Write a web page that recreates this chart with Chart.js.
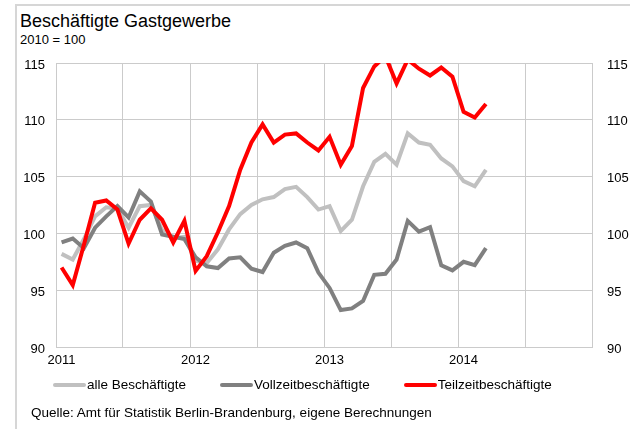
<!DOCTYPE html>
<html>
<head>
<meta charset="utf-8">
<script src="https://cdn.jsdelivr.net/npm/chart.js@4.4.1/dist/chart.umd.min.js"></script>
<style>
  body { margin: 0; background: #fff; font-family: "Liberation Sans", Arial, sans-serif; color: #000; }
  #wrap { position: relative; width: 630px; height: 429px; overflow: hidden; }
  #rahmen { position: absolute; left: 15px; top: 4px; width: 700px; height: 500px;
    border-top: 2px solid #d6d6d6; border-left: 2px solid #d6d6d6; }
  .txt { position: absolute; white-space: nowrap; }
  #titel { left: 20px; top: 12px; font-size: 18px; line-height: 18px; }
  #untertitel { left: 20px; top: 33px; font-size: 13px; line-height: 13px; }
  #quelle { left: 31px; top: 406px; font-size: 13.5px; line-height: 14px; }
  #legende { position: absolute; left: 53px; top: 378px; display: flex; gap: 34px;
    font-size: 13.5px; line-height: 14px; white-space: nowrap; }
  #legende .eintrag { display: flex; align-items: center; }
  #legende .strich { width: 33px; height: 4px; border-radius: 2px; margin-right: 1px; }
  canvas { position: absolute; left: 0; top: 0; }
</style>
</head>
<body>
<div id="wrap">
  <div id="rahmen"></div>
  <div class="txt" id="titel">Beschäftigte Gastgewerbe</div>
  <div class="txt" id="untertitel">2010 = 100</div>
  <canvas id="grafik" width="630" height="429"></canvas>
  <div id="legende"></div>
  <div class="txt" id="quelle">Quelle: Amt für Statistik Berlin-Brandenburg, eigene Berechnungen</div>
</div>
<script>
// Monate Jan 2011 bis Dez 2014
const jahre = ["2011", "2012", "2013", "2014"];
const monate = [];
jahre.forEach(j => {
  for (let m = 1; m <= 12; m++) monate.push(String(m).padStart(2, "0") + "." + j);
});

const alleBeschaeftigte = [
  98.2, 97.7, 99.5, 101.5, 102.3, 102.2, 100.5, 102.4, 102.5, 100.3, 99.6, 99.7,
  97.6, 97.4, 98.6, 100.35, 101.7, 102.5, 103.0, 103.2, 103.9, 104.1, 103.2, 102.1,
  102.4, 100.2, 101.2, 104.15, 106.3, 107.0, 106.05, 108.8, 108.0, 107.8, 106.6, 105.9,
  104.6, 104.15, 105.6
];
const vollzeit = [
  99.2, 99.55, 98.7, 100.5, 101.5, 102.4, 101.4, 103.7, 102.8, 99.9, 99.7, 99.5,
  97.9, 97.1, 96.95, 97.8, 97.9, 96.9, 96.6, 98.3, 98.9, 99.2, 98.7, 96.55,
  95.2, 93.25, 93.4, 94.05, 96.35, 96.45, 97.7, 101.1, 100.15, 100.55, 97.2, 96.75,
  97.5, 97.2, 98.7
];
const teilzeit = [
  97.0, 95.45, 99.0, 102.7, 102.9, 102.1, 99.1, 101.2, 102.2, 101.2, 99.2, 101.1,
  96.7, 98.0, 100.1, 102.4, 105.6, 108.0, 109.6, 108.0, 108.7, 108.8, 108.0, 107.3,
  108.5, 106.05, 107.7, 112.8, 114.7, 115.6, 113.2, 115.3, 114.5, 113.9, 114.6, 113.8,
  110.7, 110.2, 111.4
];

const gitter = "#cbcbcb";
const schrift = { family: "'Liberation Sans', Arial, sans-serif", size: 13 };

function linie(label, daten, farbe, reihenfolge) {
  return {
    label: label,
    data: daten,
    borderColor: farbe,
    backgroundColor: farbe,
    borderWidth: 4,
    pointRadius: 0,
    tension: 0,
    order: reihenfolge,
    yAxisID: "y"
  };
}

// Legende als HTML, Einträge kommen aus Chart.js
const htmlLegende = {
  id: "htmlLegende",
  afterUpdate(chart) {
    const box = document.getElementById("legende");
    box.innerHTML = "";
    const items = chart.options.plugins.legend.labels.generateLabels(chart);
    items.sort((a, b) => a.datasetIndex - b.datasetIndex);
    items.forEach(item => {
      const e = document.createElement("div");
      e.className = "eintrag";
      const s = document.createElement("span");
      s.className = "strich";
      s.style.background = item.strokeStyle;
      const t = document.createElement("span");
      t.textContent = item.text;
      e.appendChild(s);
      e.appendChild(t);
      box.appendChild(e);
    });
  }
};

new Chart(document.getElementById("grafik"), {
  type: "line",
  data: {
    labels: monate,
    datasets: [
      linie("alle Beschäftigte", alleBeschaeftigte, "#c0c0c0", 2),
      linie("Vollzeitbeschäftigte", vollzeit, "#808080", 1),
      linie("Teilzeitbeschäftigte", teilzeit, "#ff0000", 0)
    ]
  },
  plugins: [htmlLegende],
  options: {
    responsive: false,
    animation: false,
    layout: { padding: { left: 18, right: 0, top: 63, bottom: 60 } },
    plugins: {
      tooltip: { enabled: false },
      legend: { display: false }
    },
    scales: {
      x: {
        offset: true,
        grid: {
          offset: true,
          drawTicks: false,
          color: ctx => (ctx.index % 6 === 0 ? gitter : "rgba(0,0,0,0)")
        },
        border: { color: gitter },
        ticks: {
          autoSkip: false,
          maxRotation: 0,
          padding: 6,
          color: "#000",
          font: schrift,
          callback: (v, i) => (i % 12 === 0 ? jahre[i / 12] : "")
        },
        afterFit: s => { s.height = 22; }
      },
      y: {
        position: "left",
        min: 90,
        max: 115,
        grid: { color: gitter, drawTicks: false },
        border: { color: gitter },
        ticks: { stepSize: 5, padding: 11, labelOffset: 2, color: "#000", font: schrift },
        afterFit: s => { s.width = 38; }
      },
      y2: {
        position: "right",
        min: 90,
        max: 115,
        grid: { display: false, drawTicks: false },
        border: { color: gitter },
        ticks: { stepSize: 5, padding: 15, labelOffset: 2, color: "#000", font: schrift },
        afterFit: s => { s.width = 38; }
      }
    }
  }
});
</script>
</body>
</html>
